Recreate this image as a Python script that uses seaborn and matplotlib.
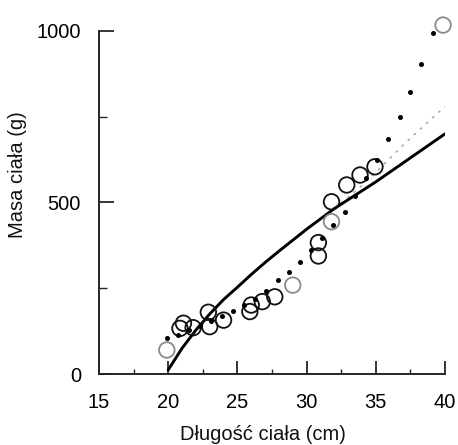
import numpy as np
import pandas as pd
import matplotlib
matplotlib.use("Agg")
import matplotlib.pyplot as plt
import seaborn as sns

# Observed fish (open circles)
obs_len = [19.9, 20.85, 21.1, 21.8, 22.9, 23.0, 24.0, 25.9, 26.0, 26.8, 27.7, 29.0,
           30.85, 30.85, 31.8, 31.8, 32.9, 33.86, 34.94, 39.86]
obs_mass = [70, 133, 148, 135, 180, 138, 157, 182, 201, 211, 225, 259,
            383, 344, 502, 444, 551, 580, 604, 1017]
obs_tone = ["light", "dark", "dark", "dark", "dark", "dark", "dark", "dark", "dark", "dark", "dark", "light",
            "dark", "dark", "dark", "light", "dark", "dark", "dark", "light"]

# Model curve drawn as small black dots
dot_len = [19.9, 20.7, 21.5, 22.3, 23.1, 23.9, 24.7, 25.5, 26.3, 27.1, 27.95, 28.75, 29.5,
           30.3, 31.1, 31.9, 32.75, 33.5, 34.3, 35.1, 35.9, 36.75, 37.5, 38.3, 39.15]
dot_mass = [104, 115, 127, 140, 154, 168, 184, 201, 219, 242, 274, 298, 327,
            360, 396, 434, 473, 520, 570, 625, 684, 750, 823, 904, 993]

# Solid fitted curve
fit_len = [20, 21, 22, 23, 24, 25, 26, 27, 28, 29, 30, 31, 32, 33, 34, 35, 36, 37, 38, 39, 40]
fit_mass = [12, 75, 128, 175, 217, 253, 290, 325, 358, 390, 422, 452, 482, 508, 534, 560,
            588, 616, 644, 672, 700]

# Faint grey dotted curve
alt_len = [32, 33, 34, 35, 36, 37, 38, 39, 40]
alt_mass = [482, 515, 550, 588, 628, 668, 706, 743, 780]

x_ticks = [15, 20, 25, 30, 35, 40]
y_ticks = [0, 500, 1000]

sns.set_theme(style="ticks")
plt.rcParams['font.family'] = ['Liberation Sans', 'DejaVu Sans']

fig = plt.figure(figsize=(4.58, 4.45), dpi=100)
ax = fig.add_axes([99/458, (445-374)/445, (445-99)/458, (374-10)/445])

obs = pd.DataFrame({"len": obs_len, "mass": obs_mass, "tone": obs_tone})
dots = pd.DataFrame({"len": dot_len, "mass": dot_mass})
fit = pd.DataFrame({"len": fit_len, "mass": fit_mass})
alt = pd.DataFrame({"len": alt_len, "mass": alt_mass})

sns.lineplot(data=alt, x="len", y="mass", ax=ax, color="#a0a0a0", lw=1.0,
             linestyle=(0, (2, 4)), zorder=2)
sns.lineplot(data=fit, x="len", y="mass", ax=ax, color="black", lw=2.1, zorder=3)
sns.scatterplot(data=obs, x="len", y="mass", hue="tone", palette={"dark": "#111111", "light": "#8a8a8a"},
                ax=ax, s=125, marker="o", linewidth=1.3, legend=False,
                zorder=4, clip_on=False)
coll = ax.collections[-1]
cols = ["#111111" if t == "dark" else "#8a8a8a" for t in obs_tone]
coll.set_facecolor("none")
coll.set_edgecolor(cols)
sns.scatterplot(data=dots, x="len", y="mass", ax=ax, color="black", s=13, linewidth=0,
                zorder=5, legend=False, clip_on=False)

ax.set_xlim(15, 40)
ax.set_ylim(0, 1061)
ax.spines["top"].set_visible(False)
ax.spines["right"].set_visible(False)
ax.spines["left"].set_bounds(0, 1000)
ax.spines["left"].set_linewidth(1.4)
ax.spines["bottom"].set_linewidth(1.4)

fs = 14.5
ax.set_xticks(x_ticks)
ax.set_yticks(y_ticks)
ax.set_xticks([17.5, 22.5, 27.5, 32.5, 37.5], minor=True)
ax.set_yticks([250, 750], minor=True)
ax.tick_params(axis="x", which="major", direction="in", length=9.5, width=1.1, pad=13.5, labelsize=fs, colors="black")
ax.tick_params(axis="x", which="minor", direction="in", length=3.5, width=1.0)
ax.tick_params(axis="y", which="major", direction="in", length=11, width=1.1, pad=13, labelsize=fs, colors="black")
ax.tick_params(axis="y", which="minor", direction="in", length=6, width=1.0)

ax.set_xlabel("Długość ciała (cm)", fontsize=fs, color="#111111")
ax.set_ylabel("Masa ciała (g)", fontsize=fs, color="#111111")
ax.xaxis.set_label_coords((263-99)/346, -(435-374)/364)
ax.yaxis.set_label_coords(-(99-18)/346, (374-175)/364)
ax.xaxis.label.set_va("center")
ax.yaxis.label.set_va("center")

fig.savefig("out.png", dpi=100)
